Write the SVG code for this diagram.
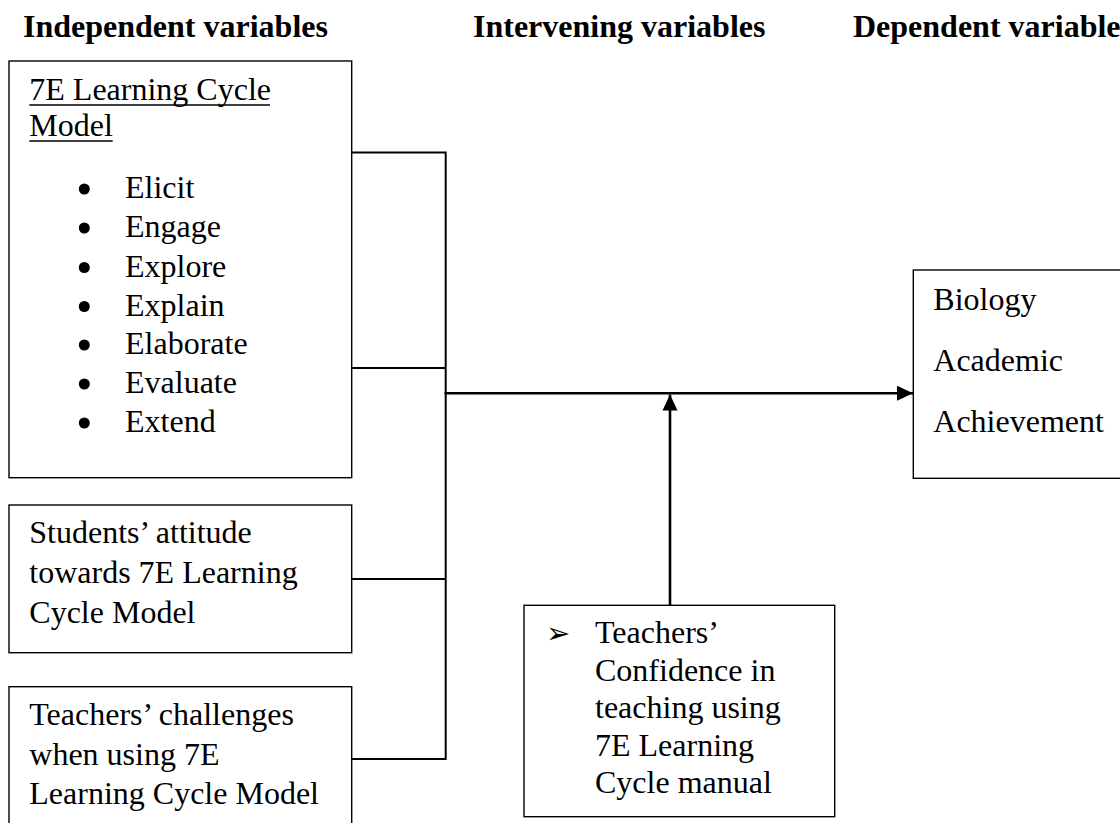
<svg xmlns="http://www.w3.org/2000/svg" width="1120" height="823" viewBox="0 0 1120 823">
<style>
.hd{font-family:"Liberation Serif","Times New Roman",serif;font-size:32px;font-weight:bold;fill:#000}
.tx{font-family:"Liberation Serif","Times New Roman",serif;font-size:32px;fill:#000}
.box{fill:#fff;stroke:#000;stroke-width:1.4}
.br{fill:none;stroke:#000;stroke-width:2}
.ar{fill:none;stroke:#000;stroke-width:2.6}
.ul{stroke:#000;stroke-width:1.6}
</style>
<defs>
<marker id="ah" markerUnits="userSpaceOnUse" markerWidth="16" markerHeight="16" viewBox="0 0 16 16" refX="16" refY="8" orient="auto">
<path d="M0,0.5 L16,8 L0,15.5 Z" fill="#000"/>
</marker>
</defs>
<rect width="1120" height="823" fill="#fff"/>
<g id="headers">
<text class="hd" x="23" y="37">Independent variables</text>
<text class="hd" x="473" y="37">Intervening variables</text>
<text class="hd" x="853" y="37">Dependent variable</text>
</g>
<g id="connectors">
<path class="br" d="M351.7,152.5 H445.7 V759 H351.7"/>
<path class="br" d="M351.7,368 H445.7"/>
<path class="br" d="M351.7,579 H445.7"/>
<path class="ar" d="M444.5,393.3 H913" marker-end="url(#ah)"/>
<path class="ar" d="M670,605.3 V394.5" marker-end="url(#ah)"/>
</g>
<g id="node-7e-model">
<rect class="box" x="9" y="61" width="342.7" height="416.7"/>
<text class="tx" x="29.3" y="100">7E Learning Cycle</text>
<line class="ul" x1="29.3" y1="105" x2="270" y2="105"/>
<text class="tx" x="29.3" y="136">Model</text>
<line class="ul" x1="29.3" y1="141" x2="112.7" y2="141"/>
<circle cx="84.3" cy="189" r="5.5"/>
<text class="tx" x="125" y="198">Elicit</text>
<circle cx="84.3" cy="228" r="5.5"/>
<text class="tx" x="125" y="237">Engage</text>
<circle cx="84.3" cy="267.5" r="5.5"/>
<text class="tx" x="125" y="276.5">Explore</text>
<circle cx="84.3" cy="306.5" r="5.5"/>
<text class="tx" x="125" y="315.5">Explain</text>
<circle cx="84.3" cy="345" r="5.5"/>
<text class="tx" x="125" y="354">Elaborate</text>
<circle cx="84.3" cy="384" r="5.5"/>
<text class="tx" x="125" y="393">Evaluate</text>
<circle cx="84.3" cy="423" r="5.5"/>
<text class="tx" x="125" y="432">Extend</text>
</g>
<g id="node-students-attitude">
<rect class="box" x="9" y="505" width="342.7" height="147.7"/>
<text class="tx" x="29.3" y="543">Students’ attitude</text>
<text class="tx" x="29.3" y="582.5">towards 7E Learning</text>
<text class="tx" x="29.3" y="622.5">Cycle Model</text>
</g>
<g id="node-teachers-challenges">
<rect class="box" x="9" y="686.7" width="342.7" height="150"/>
<text class="tx" x="29.3" y="725">Teachers’ challenges</text>
<text class="tx" x="29.3" y="765">when using 7E</text>
<text class="tx" x="29.3" y="804">Learning Cycle Model</text>
</g>
<g id="node-teachers-confidence">
<rect class="box" x="524" y="605.3" width="310.7" height="211.4"/>
<text x="546" y="643" style="font-family:'DejaVu Sans',sans-serif;font-size:29px;fill:#000">➢</text>
<text class="tx" x="595" y="643.3">Teachers’</text>
<text class="tx" x="595" y="680.5">Confidence in</text>
<text class="tx" x="595" y="717.5">teaching using</text>
<text class="tx" x="595" y="755.5">7E Learning</text>
<text class="tx" x="595" y="793">Cycle manual</text>
</g>
<g id="node-biology-achievement">
<rect class="box" x="913.3" y="270" width="220" height="208.3"/>
<text class="tx" x="933.3" y="310">Biology</text>
<text class="tx" x="933.3" y="370.5">Academic</text>
<text class="tx" x="933.3" y="431.5">Achievement</text>
</g>
</svg>
